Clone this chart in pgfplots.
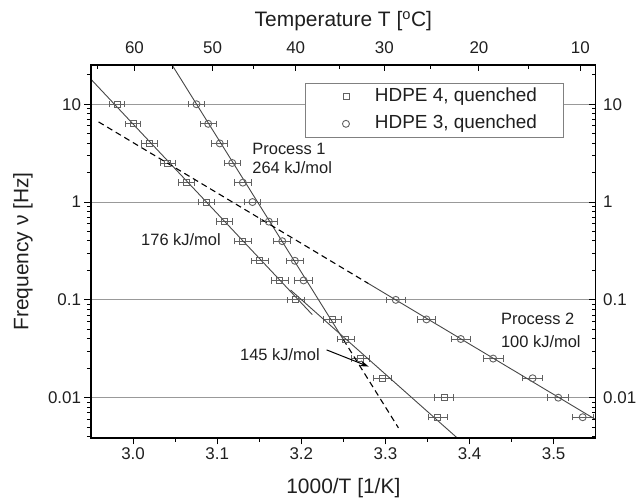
\documentclass[border=0pt]{standalone}
\usepackage{fontspec}
\setmainfont{Liberation Sans}
\usepackage{pgfplots}
\pgfplotsset{compat=1.18}
\usetikzlibrary{arrows.meta}
\definecolor{mk}{gray}{0.38}
\definecolor{gridc}{gray}{0.6}
\definecolor{ln}{gray}{0.28}
\definecolor{txt}{gray}{0.12}
\newcommand{\tickfont}{\fontsize{17}{20}\selectfont}
\newcommand{\labfont}{\fontsize{21}{25}\selectfont}
\newcommand{\annfont}{\fontsize{16.5}{19}\selectfont}
\begin{document}
\begin{tikzpicture}
\begin{axis}[name=main,
  width=504.7bp, height=373bp, scale only axis,
  xmin=2.95, xmax=3.55, ymode=log, ymin=0.00387, ymax=25.2,
  axis line style={black, line width=1.2bp},
  major tick length=6.5bp, minor tick length=4bp,
  every tick/.style={black, line width=1bp},
  ticklabel style={font=\tickfont, text=txt},
  label style={font=\labfont, text=txt},
  ytick={0.01,0.1,1,10}, yticklabels={0.01,0.1,1,10},
  minor ytick={0.004,0.005,0.006,0.007,0.008,0.009,0.02,0.03,0.04,0.05,0.06,0.07,0.08,0.09,0.2,0.3,0.4,0.5,0.6,0.7,0.8,0.9,2,3,4,5,6,7,8,9,20},
  xtick pos=left, ytick pos=left, tick align=outside,
  xtick={3.0,3.1,3.2,3.3,3.4,3.5}, xticklabels={3.0,3.1,3.2,3.3,3.4,3.5},
  minor xtick={3.05,3.15,3.25,3.35,3.45},
  ymajorgrids, grid style={gridc, line width=1bp},
  xlabel={1000/T [1/K]}, ylabel={Frequency ν [Hz]},
  xlabel style={at={(axis description cs:0.5,-0.134)}, anchor=center},
  ylabel style={at={(axis description cs:-0.135,0.5)}, anchor=center},
  legend style={at={(rel axis cs:0.936,0.951)}, anchor=north east,
    draw=gray, line width=0.8bp, fill=white, font=\fontsize{19}{22}\selectfont,
    inner xsep=24bp, inner ysep=2.5bp, row sep=5.4bp,
    nodes={text height=13.5bp, text depth=4bp, inner ysep=2bp, text=txt}},
  legend cell align=left,
  legend image code/.code={\path[draw=none,fill=none] (0bp,0bp) -- (44bp,0bp); \draw[#1] plot coordinates {(17bp,0bp)};},
  error bars/error mark=|,
  error bars/error bar style={mk, line width=0.9bp},
  error bars/error mark options={mk, line width=0.9bp, mark size=3.2bp},
]
% HDPE 4 (squares)
\addplot[only marks, mark=square, mark size=3bp, mark options={mk, fill=white, line width=0.9bp},
  error bars/.cd, x dir=both, x explicit] coordinates {
(2.981,10) +- (0.0089,0)
(3.000,6.31) +- (0.0090,0)
(3.0194,3.98) +- (0.0091,0)
(3.0412,2.51) +- (0.0092,0)
(3.0635,1.58) +- (0.0094,0)
(3.0869,1.0) +- (0.0095,0)
(3.1087,0.631) +- (0.0097,0)
(3.1305,0.398) +- (0.0098,0)
(3.1507,0.251) +- (0.0099,0)
(3.1742,0.158) +- (0.0101,0)
(3.1932,0.1) +- (0.0102,0)
(3.2369,0.0631) +- (0.0105,0)
(3.2530,0.0398) +- (0.0106,0)
(3.2706,0.0251) +- (0.0107,0)
(3.2964,0.0158) +- (0.0109,0)
(3.3700,0.01) +- (0.0114,0)
(3.3619,0.00631) +- (0.0113,0)
};
\addlegendentry{HDPE 4, quenched}
% HDPE 3 (circles)
\addplot[only marks, mark=o, mark size=3.5bp, mark options={mk, fill=white, line width=0.9bp},
  error bars/.cd, x dir=both, x explicit] coordinates {
(3.0754,10) +- (0.0095,0)
(3.0893,6.31) +- (0.0095,0)
(3.1031,3.98) +- (0.0096,0)
(3.1179,2.51) +- (0.0097,0)
(3.1305,1.58) +- (0.0098,0)
(3.1420,1.0) +- (0.0099,0)
(3.1614,0.631) +- (0.0100,0)
(3.1774,0.398) +- (0.0101,0)
(3.1924,0.251) +- (0.0102,0)
(3.2027,0.158) +- (0.0103,0)
(3.3123,0.1) +- (0.0110,0)
(3.3488,0.0631) +- (0.0112,0)
(3.3896,0.0398) +- (0.0115,0)
(3.4281,0.0251) +- (0.0118,0)
(3.4750,0.0158) +- (0.0121,0)
(3.5055,0.01) +- (0.0123,0)
(3.5345,0.00631) +- (0.0125,0)
};
\addlegendentry{HDPE 3, quenched}
% fitted lines
\addplot[ln, line width=0.9bp, forget plot] coordinates {(2.95,18.0) (3.2131,0.0706)};
\addplot[ln, line width=0.9bp, forget plot] coordinates {(3.0464,25.2) (3.25,0.0393)};
\addplot[black, line width=1.1bp, dash pattern=on 6bp off 4bp, forget plot] coordinates {(3.25,0.0393) (3.3155,0.00491)};
\addplot[ln, line width=0.9bp, forget plot] coordinates {(3.1873,0.126) (3.385,0.0039)};
\addplot[black, line width=1.1bp, dash pattern=on 6bp off 4bp, forget plot] coordinates {(2.959,6.60) (3.28,0.1466)};
\addplot[ln, line width=0.9bp, forget plot] coordinates {(3.28,0.1466) (3.55,0.00597)};
% arrow
\addplot[black, line width=1bp, -{Stealth[length=9bp,width=6bp]}, forget plot] coordinates {(3.2301,0.0308) (3.2801,0.0208)};
% annotations
\node[anchor=west, font=\annfont, text=txt, inner sep=0pt] at (axis cs:3.1417,3.47) {Process 1};
\node[anchor=west, font=\annfont, text=txt, inner sep=0pt] at (axis cs:3.1417,2.27) {264 kJ/mol};
\node[anchor=west, font=\annfont, text=txt, inner sep=0pt] at (axis cs:3.0095,0.41) {176 kJ/mol};
\node[anchor=east, font=\annfont, text=txt, inner sep=0pt] at (axis cs:3.2221,0.0274) {145 kJ/mol};
\node[anchor=west, font=\annfont, text=txt, inner sep=0pt] at (axis cs:3.4373,0.0636) {Process 2};
\node[anchor=west, font=\annfont, text=txt, inner sep=0pt] at (axis cs:3.4373,0.0375) {100 kJ/mol};
\end{axis}
\begin{axis}[
  width=504.7bp, height=373bp, scale only axis,
  xmin=2.95, xmax=3.55, ymode=log, ymin=0.00387, ymax=25.2,
  axis line style={black, line width=1.2bp},
  major tick length=6.5bp, minor tick length=4bp,
  every tick/.style={black, line width=1bp},
  ticklabel style={font=\tickfont, text=txt},
  xticklabel style={yshift=8bp},
  yticklabel style={xshift=4bp},
  label style={font=\labfont, text=txt},
  ytick={0.01,0.1,1,10}, yticklabels={0.01,0.1,1,10},
  minor ytick={0.004,0.005,0.006,0.007,0.008,0.009,0.02,0.03,0.04,0.05,0.06,0.07,0.08,0.09,0.2,0.3,0.4,0.5,0.6,0.7,0.8,0.9,2,3,4,5,6,7,8,9,20},
  xtick pos=right, ytick pos=right, tick align=inside,
  xticklabel pos=right, yticklabel pos=right,
  xtick={3.00165,3.09454,3.19336,3.29870,3.41122,3.53170},
  xticklabels={60,50,40,30,20,10},
  minor xtick={2.95727,3.04739,3.14317,3.24517,3.35402,3.47041},
  xlabel={Temperature T [\textsuperscript{o}C]},
  xlabel style={at={(axis description cs:0.5,1.117)}, anchor=center},
]
\addplot[draw=none] coordinates {(3.0,1)};
\end{axis}
\pgfresetboundingbox
\path (main.south west) ++(-91bp,-63bp) rectangle ++(637bp,501bp);
\end{tikzpicture}
\end{document}
